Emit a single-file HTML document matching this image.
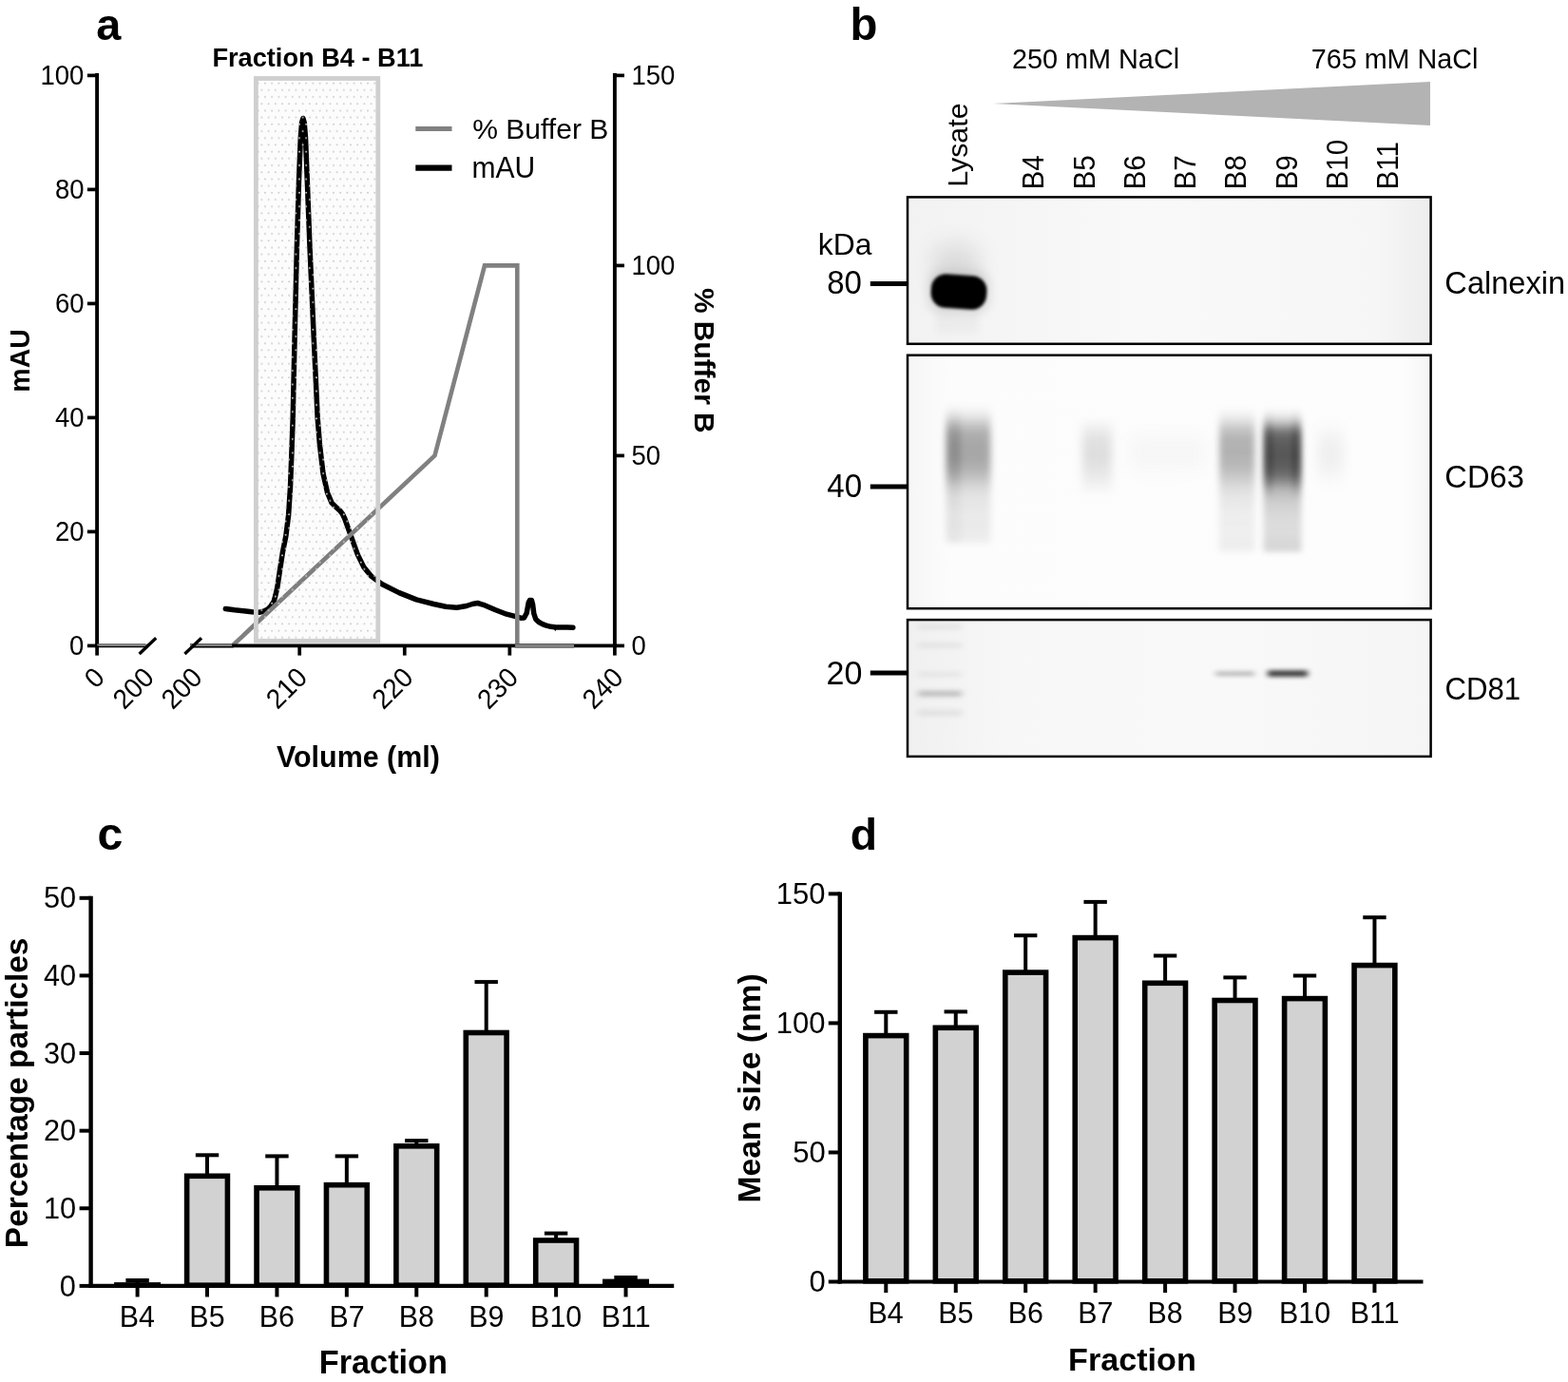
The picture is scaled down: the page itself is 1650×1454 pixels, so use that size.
<!DOCTYPE html>
<html lang="en"><head><meta charset="utf-8"><title>Figure</title>
<style>html,body{margin:0;padding:0;background:#fff;}svg{display:block;}text{font-family:"Liberation Sans", sans-serif;fill:#000;}</style></head><body>
<svg width="1650" height="1454" viewBox="0 0 1650 1454" role="img" aria-label="Figure with panels a, b, c and d">
<defs>
<pattern id="dots" x="270" y="84" width="7.2" height="14.4" patternUnits="userSpaceOnUse"><circle cx="1.8" cy="3.6" r="0.95" fill="#cbcbcb"/><circle cx="5.4" cy="10.8" r="0.95" fill="#cbcbcb"/></pattern>
<filter id="b1" x="-50%" y="-50%" width="200%" height="200%"><feGaussianBlur stdDeviation="1.6"/></filter>
<filter id="b2" x="-50%" y="-50%" width="200%" height="200%"><feGaussianBlur stdDeviation="2.5"/></filter>
<filter id="b4" x="-50%" y="-50%" width="200%" height="200%"><feGaussianBlur stdDeviation="4"/></filter>
<filter id="b6" x="-50%" y="-50%" width="200%" height="200%"><feGaussianBlur stdDeviation="6"/></filter>
<filter id="b9" x="-50%" y="-50%" width="200%" height="200%"><feGaussianBlur stdDeviation="9"/></filter>
<filter id="b14" x="-80%" y="-80%" width="260%" height="260%"><feGaussianBlur stdDeviation="14"/></filter>
<linearGradient id="blotbg" x1="0" y1="0" x2="1" y2="0"><stop offset="0" stop-color="#f2f2f2"/><stop offset="0.45" stop-color="#f9f9f9"/><stop offset="0.9" stop-color="#f6f6f6"/><stop offset="1" stop-color="#ededed"/></linearGradient>
<linearGradient id="blotbg2" x1="0" y1="0" x2="1" y2="0"><stop offset="0" stop-color="#f6f6f6"/><stop offset="0.08" stop-color="#fcfcfc"/><stop offset="0.95" stop-color="#fdfdfd"/><stop offset="1" stop-color="#f4f4f4"/></linearGradient>
<linearGradient id="blotbg3" x1="0" y1="0" x2="1" y2="0"><stop offset="0" stop-color="#f0f0f0"/><stop offset="0.2" stop-color="#f7f7f7"/><stop offset="0.6" stop-color="#f9f9f9"/><stop offset="1" stop-color="#f5f5f5"/></linearGradient>
<filter id="f10x12" x="-100%" y="-100%" width="300%" height="300%"><feGaussianBlur stdDeviation="10 12"/></filter><filter id="f5x5" x="-100%" y="-100%" width="300%" height="300%"><feGaussianBlur stdDeviation="5 5"/></filter><filter id="f3x5" x="-100%" y="-100%" width="300%" height="300%"><feGaussianBlur stdDeviation="3 5"/></filter><filter id="f3_5x2_5" x="-100%" y="-100%" width="300%" height="300%"><feGaussianBlur stdDeviation="3.5 2.5"/></filter><filter id="f3x2_5" x="-100%" y="-100%" width="300%" height="300%"><feGaussianBlur stdDeviation="3 2.5"/></filter><filter id="f5x3" x="-100%" y="-100%" width="300%" height="300%"><feGaussianBlur stdDeviation="5 3"/></filter><filter id="f9x9" x="-100%" y="-100%" width="300%" height="300%"><feGaussianBlur stdDeviation="9 9"/></filter><filter id="f2_5x2_5" x="-100%" y="-100%" width="300%" height="300%"><feGaussianBlur stdDeviation="2.5 2.5"/></filter><filter id="f6x10" x="-100%" y="-100%" width="300%" height="300%"><feGaussianBlur stdDeviation="6 10"/></filter><filter id="f3_5x2_4" x="-100%" y="-100%" width="300%" height="300%"><feGaussianBlur stdDeviation="3.5 2.4"/></filter><filter id="f3x2_0" x="-100%" y="-100%" width="300%" height="300%"><feGaussianBlur stdDeviation="3 2.0"/></filter><filter id="f3x2_2" x="-100%" y="-100%" width="300%" height="300%"><feGaussianBlur stdDeviation="3 2.2"/></filter><linearGradient id="gL" gradientUnits="userSpaceOnUse" x1="0" y1="424" x2="0" y2="575"><stop offset="0.0" stop-color="#000" stop-opacity="0.0"/><stop offset="0.053" stop-color="#000" stop-opacity="0.032"/><stop offset="0.106" stop-color="#000" stop-opacity="0.112"/><stop offset="0.1589" stop-color="#000" stop-opacity="0.224"/><stop offset="0.2119" stop-color="#000" stop-opacity="0.304"/><stop offset="0.2914" stop-color="#000" stop-opacity="0.336"/><stop offset="0.3841" stop-color="#000" stop-opacity="0.336"/><stop offset="0.4636" stop-color="#000" stop-opacity="0.288"/><stop offset="0.5298" stop-color="#000" stop-opacity="0.216"/><stop offset="0.5828" stop-color="#000" stop-opacity="0.144"/><stop offset="0.649" stop-color="#000" stop-opacity="0.096"/><stop offset="0.7682" stop-color="#000" stop-opacity="0.072"/><stop offset="0.8874" stop-color="#000" stop-opacity="0.068"/><stop offset="0.9536" stop-color="#000" stop-opacity="0.056"/><stop offset="1.0" stop-color="#000" stop-opacity="0.0"/></linearGradient><linearGradient id="gL2" gradientUnits="userSpaceOnUse" x1="0" y1="424" x2="0" y2="575"><stop offset="0.0" stop-color="#000" stop-opacity="0.0"/><stop offset="0.053" stop-color="#000" stop-opacity="0.014"/><stop offset="0.106" stop-color="#000" stop-opacity="0.049"/><stop offset="0.1589" stop-color="#000" stop-opacity="0.098"/><stop offset="0.2119" stop-color="#000" stop-opacity="0.133"/><stop offset="0.2914" stop-color="#000" stop-opacity="0.147"/><stop offset="0.3841" stop-color="#000" stop-opacity="0.147"/><stop offset="0.4636" stop-color="#000" stop-opacity="0.126"/><stop offset="0.5298" stop-color="#000" stop-opacity="0.095"/><stop offset="0.5828" stop-color="#000" stop-opacity="0.063"/><stop offset="0.649" stop-color="#000" stop-opacity="0.042"/><stop offset="0.7682" stop-color="#000" stop-opacity="0.032"/><stop offset="0.8874" stop-color="#000" stop-opacity="0.03"/><stop offset="0.9536" stop-color="#000" stop-opacity="0.025"/><stop offset="1.0" stop-color="#000" stop-opacity="0.0"/></linearGradient><linearGradient id="g5" gradientUnits="userSpaceOnUse" x1="0" y1="440" x2="0" y2="522"><stop offset="0.0" stop-color="#000" stop-opacity="0.0"/><stop offset="0.1463" stop-color="#000" stop-opacity="0.06"/><stop offset="0.3049" stop-color="#000" stop-opacity="0.11"/><stop offset="0.4878" stop-color="#000" stop-opacity="0.12"/><stop offset="0.6707" stop-color="#000" stop-opacity="0.09"/><stop offset="0.8293" stop-color="#000" stop-opacity="0.05"/><stop offset="1.0" stop-color="#000" stop-opacity="0.0"/></linearGradient><linearGradient id="g8" gradientUnits="userSpaceOnUse" x1="0" y1="428" x2="0" y2="584"><stop offset="0.0" stop-color="#000" stop-opacity="0.0"/><stop offset="0.0513" stop-color="#000" stop-opacity="0.04"/><stop offset="0.1026" stop-color="#000" stop-opacity="0.12"/><stop offset="0.1538" stop-color="#000" stop-opacity="0.22"/><stop offset="0.2179" stop-color="#000" stop-opacity="0.29"/><stop offset="0.3077" stop-color="#000" stop-opacity="0.3"/><stop offset="0.3974" stop-color="#000" stop-opacity="0.27"/><stop offset="0.4744" stop-color="#000" stop-opacity="0.2"/><stop offset="0.5385" stop-color="#000" stop-opacity="0.13"/><stop offset="0.6026" stop-color="#000" stop-opacity="0.09"/><stop offset="0.7179" stop-color="#000" stop-opacity="0.06"/><stop offset="0.859" stop-color="#000" stop-opacity="0.055"/><stop offset="0.9487" stop-color="#000" stop-opacity="0.06"/><stop offset="1.0" stop-color="#000" stop-opacity="0.0"/></linearGradient><linearGradient id="g9" gradientUnits="userSpaceOnUse" x1="0" y1="428" x2="0" y2="583"><stop offset="0.0" stop-color="#000" stop-opacity="0.0"/><stop offset="0.0387" stop-color="#000" stop-opacity="0.034"/><stop offset="0.0774" stop-color="#000" stop-opacity="0.118"/><stop offset="0.1161" stop-color="#000" stop-opacity="0.269"/><stop offset="0.1484" stop-color="#000" stop-opacity="0.437"/><stop offset="0.1935" stop-color="#000" stop-opacity="0.588"/><stop offset="0.2581" stop-color="#000" stop-opacity="0.638"/><stop offset="0.3355" stop-color="#000" stop-opacity="0.655"/><stop offset="0.4129" stop-color="#000" stop-opacity="0.622"/><stop offset="0.4645" stop-color="#000" stop-opacity="0.554"/><stop offset="0.5097" stop-color="#000" stop-opacity="0.437"/><stop offset="0.5484" stop-color="#000" stop-opacity="0.319"/><stop offset="0.5871" stop-color="#000" stop-opacity="0.244"/><stop offset="0.6581" stop-color="#000" stop-opacity="0.176"/><stop offset="0.7548" stop-color="#000" stop-opacity="0.134"/><stop offset="0.8516" stop-color="#000" stop-opacity="0.126"/><stop offset="0.9419" stop-color="#000" stop-opacity="0.151"/><stop offset="0.9742" stop-color="#000" stop-opacity="0.134"/><stop offset="1.0" stop-color="#000" stop-opacity="0.0"/></linearGradient><linearGradient id="g9a" gradientUnits="userSpaceOnUse" x1="0" y1="428" x2="0" y2="524"><stop offset="0.0" stop-color="#000" stop-opacity="0.0"/><stop offset="0.0625" stop-color="#000" stop-opacity="0.009"/><stop offset="0.125" stop-color="#000" stop-opacity="0.031"/><stop offset="0.1875" stop-color="#000" stop-opacity="0.07"/><stop offset="0.2396" stop-color="#000" stop-opacity="0.114"/><stop offset="0.3125" stop-color="#000" stop-opacity="0.154"/><stop offset="0.4167" stop-color="#000" stop-opacity="0.167"/><stop offset="0.5417" stop-color="#000" stop-opacity="0.172"/><stop offset="0.6667" stop-color="#000" stop-opacity="0.163"/><stop offset="0.75" stop-color="#000" stop-opacity="0.145"/><stop offset="0.8229" stop-color="#000" stop-opacity="0.114"/><stop offset="0.8854" stop-color="#000" stop-opacity="0.084"/><stop offset="1.0" stop-color="#000" stop-opacity="0.0"/></linearGradient><linearGradient id="g9b" gradientUnits="userSpaceOnUse" x1="0" y1="428" x2="0" y2="524"><stop offset="0.0" stop-color="#000" stop-opacity="0.0"/><stop offset="0.0625" stop-color="#000" stop-opacity="0.009"/><stop offset="0.125" stop-color="#000" stop-opacity="0.031"/><stop offset="0.1875" stop-color="#000" stop-opacity="0.07"/><stop offset="0.2396" stop-color="#000" stop-opacity="0.114"/><stop offset="0.3125" stop-color="#000" stop-opacity="0.154"/><stop offset="0.4167" stop-color="#000" stop-opacity="0.167"/><stop offset="0.5417" stop-color="#000" stop-opacity="0.172"/><stop offset="0.6667" stop-color="#000" stop-opacity="0.163"/><stop offset="0.75" stop-color="#000" stop-opacity="0.145"/><stop offset="0.8229" stop-color="#000" stop-opacity="0.114"/><stop offset="0.8854" stop-color="#000" stop-opacity="0.084"/><stop offset="1.0" stop-color="#000" stop-opacity="0.0"/></linearGradient>
</defs>
<rect x="0" y="0" width="1650" height="1454" fill="#fff"/>
<g id="panel-a">
<text transform="translate(101.15 41.5)" font-size="46.84" font-weight="bold">a</text>
<text transform="translate(223.39 70.09)" font-size="27.19" font-weight="bold">Fraction B4 - B11</text>
<polyline fill="none" stroke="#000" stroke-width="5.5" stroke-linejoin="round" stroke-linecap="round" points="237.3,640.5 247,641.8 256.4,642.7 265,643.8 272.7,644.3 278,643 281.8,641 285,637.5 288.2,632.7 290,626 291.8,618.2 294.5,600 297.3,581.8 300.9,563.6 303.6,541.8 305.5,512.7 306.9,476.4 308.2,440 310.2,350 312.4,260 314.5,190 316.3,145 317.6,129 318.9,124.5 320.2,129 321.5,145 323.5,195 326,260 330,350 334.2,440 336.4,467.3 340,498.2 344.5,518.2 349.1,529.1 353.5,533.5 357.3,536.8 360.3,540.5 362.7,545.5 367.3,558.2 371.8,570.9 376.4,583.6 382.7,596.4 390.9,606.4 401.8,614.5 420,623.6 438.2,630.9 456.4,635.5 469.1,638.3 480.7,639.3 490.9,637.5 497,635.5 502.5,634.5 509.8,636.7 521.5,641.8 533.1,646.2 541.8,648.4 548,650.2 551.5,650 554.2,645 556.2,634 557.5,631.5 559.4,631.5 560.6,636 561.8,645.5 563.8,651.5 567,654.5 570.9,656.6 575,658.2 579.6,659.3 585,659.9 591.3,660 597,660 602.9,660.2"/>
<polyline fill="none" stroke="#808080" stroke-width="4.6" stroke-linejoin="miter" points="200,679.4 244.5,679.4 457.5,479.4 510,279.4 544.3,279.4 544.3,679.4 604,679.4"/>
<path d="M582 660 L584.5 664.5 L585.5 660 Z" fill="#000"/>
<rect x="269.4" y="82.5" width="128.4" height="591.8" fill="#000" fill-opacity="0.012" stroke="none"/>
<rect x="269.4" y="82.5" width="128.4" height="591.8" fill="url(#dots)" stroke="#cfcfcf" stroke-width="4.8"/>
<line x1="102.1" y1="77.1" x2="102.1" y2="681.3" stroke="#000" stroke-width="3.9" stroke-linecap="butt"/>
<line x1="646.9" y1="77.1" x2="646.9" y2="681.3" stroke="#000" stroke-width="3.9" stroke-linecap="butt"/>
<line x1="100.19999999999999" y1="679.4" x2="153" y2="679.4" stroke="#000" stroke-width="3.8" stroke-linecap="butt"/>
<line x1="200" y1="679.4" x2="648.8" y2="679.4" stroke="#000" stroke-width="3.8" stroke-linecap="butt"/>
<line x1="102.1" y1="678.8" x2="157" y2="678.8" stroke="#808080" stroke-width="2.4" stroke-linecap="butt"/>
<line x1="200" y1="678.8" x2="244" y2="678.8" stroke="#808080" stroke-width="2.4" stroke-linecap="butt"/>
<line x1="542.1" y1="679.4" x2="604" y2="679.4" stroke="#808080" stroke-width="3.9" stroke-linecap="butt"/>
<line x1="146.6" y1="688" x2="164.2" y2="671.2" stroke="#000" stroke-width="3.3" stroke-linecap="butt"/>
<line x1="194.4" y1="688" x2="212" y2="671.2" stroke="#000" stroke-width="3.3" stroke-linecap="butt"/>
<line x1="91.9" y1="679.4" x2="102.1" y2="679.4" stroke="#000" stroke-width="3.7" stroke-linecap="butt"/>
<text transform="translate(73.09 688.9) scale(1 1.04)" font-size="27.5">0</text>
<line x1="91.9" y1="559.4" x2="102.1" y2="559.4" stroke="#000" stroke-width="3.7" stroke-linecap="butt"/>
<text transform="translate(57.97 568.9) scale(1 1.04)" font-size="27.5">20</text>
<line x1="91.9" y1="439.4" x2="102.1" y2="439.4" stroke="#000" stroke-width="3.7" stroke-linecap="butt"/>
<text transform="translate(57.97 448.9) scale(1 1.04)" font-size="27.5">40</text>
<line x1="91.9" y1="319.4" x2="102.1" y2="319.4" stroke="#000" stroke-width="3.7" stroke-linecap="butt"/>
<text transform="translate(57.97 328.9) scale(1 1.04)" font-size="27.5">60</text>
<line x1="91.9" y1="199.39999999999998" x2="102.1" y2="199.39999999999998" stroke="#000" stroke-width="3.7" stroke-linecap="butt"/>
<text transform="translate(57.97 208.9) scale(1 1.04)" font-size="27.5">80</text>
<line x1="91.9" y1="79.39999999999998" x2="102.1" y2="79.39999999999998" stroke="#000" stroke-width="3.7" stroke-linecap="butt"/>
<text transform="translate(42.38 88.9) scale(1 1.04)" font-size="27.5">100</text>
<line x1="646.9" y1="679.4" x2="657" y2="679.4" stroke="#000" stroke-width="3.7" stroke-linecap="butt"/>
<text transform="translate(664.41 688.95) scale(1 1.04)" font-size="27.5">0</text>
<line x1="646.9" y1="479.4" x2="657" y2="479.4" stroke="#000" stroke-width="3.7" stroke-linecap="butt"/>
<text transform="translate(664.41 488.95) scale(1 1.04)" font-size="27.5">50</text>
<line x1="646.9" y1="279.4" x2="657" y2="279.4" stroke="#000" stroke-width="3.7" stroke-linecap="butt"/>
<text transform="translate(664.41 288.95) scale(1 1.04)" font-size="27.5">100</text>
<line x1="646.9" y1="79.39999999999998" x2="657" y2="79.39999999999998" stroke="#000" stroke-width="3.7" stroke-linecap="butt"/>
<text transform="translate(664.41 88.95) scale(1 1.04)" font-size="27.5">150</text>
<line x1="102.1" y1="679.4" x2="102.1" y2="689.6" stroke="#000" stroke-width="3.7" stroke-linecap="butt"/>
<line x1="315.2" y1="679.4" x2="315.2" y2="689.6" stroke="#000" stroke-width="3.7" stroke-linecap="butt"/>
<line x1="425.77" y1="679.4" x2="425.77" y2="689.6" stroke="#000" stroke-width="3.7" stroke-linecap="butt"/>
<line x1="536.34" y1="679.4" x2="536.34" y2="689.6" stroke="#000" stroke-width="3.7" stroke-linecap="butt"/>
<line x1="646.9" y1="679.4" x2="646.9" y2="689.6" stroke="#000" stroke-width="3.7" stroke-linecap="butt"/>
<text transform="translate(292.03 747.29) rotate(-45) scale(1 1.04)" font-size="27.82">210</text>
<text transform="translate(100.78 725.59) rotate(-45) scale(1 1.04)" font-size="27.82">0</text>
<text transform="translate(130.79 747.38) rotate(-45) scale(1 1.04)" font-size="27.82">200</text>
<text transform="translate(181.69 747.38) rotate(-45) scale(1 1.04)" font-size="27.82">200</text>
<text transform="translate(403.56 747.38) rotate(-45) scale(1 1.04)" font-size="27.82">220</text>
<text transform="translate(514.13 747.38) rotate(-45) scale(1 1.04)" font-size="27.82">230</text>
<text transform="translate(624.69 747.38) rotate(-45) scale(1 1.04)" font-size="27.82">240</text>
<text transform="translate(30.68 412.7) rotate(-90) scale(1 1.04)" font-size="28.55" font-weight="bold">mAU</text>
<text transform="translate(731.25 303.0) rotate(90)" font-size="29.86" font-weight="bold">% Buffer B</text>
<text transform="translate(290.99 807.27)" font-size="30.45" font-weight="bold">Volume (ml)</text>
<line x1="437.3" y1="135.5" x2="475.5" y2="135.5" stroke="#808080" stroke-width="5.2" stroke-linecap="butt"/>
<line x1="437.3" y1="176.7" x2="475.5" y2="176.7" stroke="#000" stroke-width="6.3" stroke-linecap="butt"/>
<text transform="translate(497.2 146.37)" font-size="30.06">% Buffer B</text>
<text transform="translate(496.4 186.7) scale(1 1.04)" font-size="30.06">mAU</text>
</g>
<g id="panel-b">
<text transform="translate(894.47 41.9)" font-size="47.3" font-weight="bold">b</text>
<text transform="translate(1064.96 72.43)" font-size="28.82">250 mM NaCl</text>
<text transform="translate(1379.76 72.4)" font-size="28.73">765 mM NaCl</text>
<polygon points="1045.2,109 1505,86 1505,132" fill="#b3b3b3"/>
<text transform="translate(1018.0 196.83) rotate(-90)" font-size="30.4">Lysate</text>
<text transform="translate(1098.2 199.47) rotate(-90) scale(1 1.04)" font-size="29.6">B4</text>
<text transform="translate(1151.5 199.47) rotate(-90) scale(1 1.04)" font-size="29.6">B5</text>
<text transform="translate(1204.8 199.47) rotate(-90) scale(1 1.04)" font-size="29.6">B6</text>
<text transform="translate(1258.1 199.47) rotate(-90) scale(1 1.04)" font-size="29.6">B7</text>
<text transform="translate(1311.4 199.47) rotate(-90) scale(1 1.04)" font-size="29.6">B8</text>
<text transform="translate(1364.7 199.47) rotate(-90) scale(1 1.04)" font-size="29.6">B9</text>
<text transform="translate(1418.0 199.47) rotate(-90) scale(1 1.04)" font-size="29.6">B10</text>
<text transform="translate(1471.3 199.47) rotate(-90) scale(1 1.04)" font-size="29.6">B11</text>
<clipPath id="c1"><rect x="955.0" y="207.4" width="550.5999999999999" height="154.4"/></clipPath>
<rect x="955.0" y="207.4" width="550.5999999999999" height="154.4" fill="url(#blotbg)" stroke="none"/>
<g clip-path="url(#c1)">
<rect x="980" y="258" width="52" height="42" rx="20" fill="#000" fill-opacity="0.1" filter="url(#f10x12)"/>
<rect x="976" y="284" width="66" height="46" rx="16" fill="#000" fill-opacity="0.1" filter="url(#f5x5)"/>
<rect x="979.7" y="289.3" width="58.6" height="35.4" rx="15.5" ry="15.5" fill="#000" filter="url(#b1)" transform="rotate(4 1009 307)"/>
<rect x="985" y="328" width="45" height="22" rx="4" fill="#000" fill-opacity="0.03" filter="url(#f3x5)"/>
</g>
<rect x="955.0" y="207.4" width="550.5999999999999" height="154.4" fill="none" stroke="#000" stroke-width="2.5"/>
<clipPath id="c2"><rect x="955.0" y="373.7" width="550.5999999999999" height="266.50000000000006"/></clipPath>
<rect x="955.0" y="373.7" width="550.5999999999999" height="266.50000000000006" fill="url(#blotbg2)" stroke="none"/>
<g clip-path="url(#c2)">
<rect x="995.5" y="424" width="47.0" height="151" fill="url(#gL)" filter="url(#f3_5x2_5)"/>
<rect x="996" y="424" width="15" height="151" fill="url(#gL2)" filter="url(#f3x2_5)"/>
<rect x="1139" y="440" width="31" height="82" fill="url(#g5)" filter="url(#f5x3)"/>
<rect x="1190" y="458" width="78" height="37" rx="4" fill="#000" fill-opacity="0.025" filter="url(#f9x9)"/>
<rect x="1283" y="428" width="37.5" height="156" fill="url(#g8)" filter="url(#f3_5x2_5)"/>
<rect x="1329.5" y="428" width="40.0" height="155" fill="url(#g9)" filter="url(#f3x2_5)"/>
<rect x="1330.5" y="428" width="9.5" height="96" fill="url(#g9a)" filter="url(#f2_5x2_5)"/>
<rect x="1359" y="428" width="9.5" height="96" fill="url(#g9b)" filter="url(#f2_5x2_5)"/>
<rect x="1386" y="455" width="28" height="45" rx="4" fill="#000" fill-opacity="0.05" filter="url(#f6x10)"/>
</g>
<rect x="955.0" y="373.7" width="550.5999999999999" height="266.50000000000006" fill="none" stroke="#000" stroke-width="2.5"/>
<clipPath id="c3"><rect x="955.0" y="652.1" width="550.5999999999999" height="143.79999999999995"/></clipPath>
<rect x="955.0" y="652.1" width="550.5999999999999" height="143.79999999999995" fill="url(#blotbg3)" stroke="none"/>
<g clip-path="url(#c3)">
<rect x="966" y="657.0" width="46" height="5.0" rx="1" fill="#000" fill-opacity="0.07" filter="url(#f3_5x2_4)"/>
<rect x="966" y="676.5" width="46" height="5.0" rx="1" fill="#000" fill-opacity="0.07" filter="url(#f3_5x2_4)"/>
<rect x="966" y="707.0" width="46" height="5.0" rx="1" fill="#000" fill-opacity="0.06" filter="url(#f3_5x2_4)"/>
<rect x="966" y="726.95" width="46" height="5.5" rx="1" fill="#000" fill-opacity="0.24" filter="url(#f3_5x2_4)"/>
<rect x="966" y="747.0" width="46" height="6.0" rx="1" fill="#000" fill-opacity="0.08" filter="url(#f3_5x2_4)"/>
<rect x="1279" y="706.2" width="41" height="5.0" rx="1" fill="#000" fill-opacity="0.25" filter="url(#f3x2_0)"/>
<rect x="1334" y="705.2" width="42" height="6.7999999999999545" rx="1" fill="#000" fill-opacity="0.74" filter="url(#f3x2_2)"/>
</g>
<rect x="955.0" y="652.1" width="550.5999999999999" height="143.79999999999995" fill="none" stroke="#000" stroke-width="2.5"/>
<line x1="915.8" y1="298.4" x2="954.5" y2="298.4" stroke="#000" stroke-width="5" stroke-linecap="butt"/>
<line x1="915.8" y1="512.1" x2="954.5" y2="512.1" stroke="#000" stroke-width="5" stroke-linecap="butt"/>
<line x1="915.8" y1="707.9" x2="954.5" y2="707.9" stroke="#000" stroke-width="5" stroke-linecap="butt"/>
<text transform="translate(860.78 267.97)" font-size="31.86">kDa</text>
<text transform="translate(870.15 308.91) scale(1 1.04)" font-size="32.95">80</text>
<text transform="translate(870.35 522.79) scale(1 1.04)" font-size="33.05">40</text>
<text transform="translate(869.5 720.2) scale(1 1.04)" font-size="34.03">20</text>
<text transform="translate(1520.37 308.57)" font-size="32.58">Calnexin</text>
<text transform="translate(1520.37 513.14) scale(1 1.04)" font-size="32.64">CD63</text>
<text transform="translate(1520.44 735.72) scale(1 1.04)" font-size="31.18">CD81</text>
</g>
<g id="panel-c">
<text transform="translate(102.5 894.1)" font-size="48.19" font-weight="bold">c</text>
<line x1="144.6" y1="1347" x2="144.6" y2="1351.1" stroke="#000" stroke-width="4" stroke-linecap="butt"/>
<line x1="132.4" y1="1347" x2="156.79999999999998" y2="1347" stroke="#000" stroke-width="4" stroke-linecap="butt"/>
<rect x="120.1" y="1349.1" width="49" height="3.8" fill="#000"/>
<line x1="218.01999999999998" y1="1215.3" x2="218.01999999999998" y2="1236.5" stroke="#000" stroke-width="4" stroke-linecap="butt"/>
<line x1="205.82" y1="1215.3" x2="230.21999999999997" y2="1215.3" stroke="#000" stroke-width="4" stroke-linecap="butt"/>
<rect x="196.62" y="1237.3" width="42.8" height="114.9" fill="#d2d2d2" stroke="#000" stroke-width="5.6"/>
<line x1="291.44" y1="1216.4" x2="291.44" y2="1249" stroke="#000" stroke-width="4" stroke-linecap="butt"/>
<line x1="279.24" y1="1216.4" x2="303.64" y2="1216.4" stroke="#000" stroke-width="4" stroke-linecap="butt"/>
<rect x="270.04" y="1249.8" width="42.8" height="102.4" fill="#d2d2d2" stroke="#000" stroke-width="5.6"/>
<line x1="364.86" y1="1216.4" x2="364.86" y2="1245.9" stroke="#000" stroke-width="4" stroke-linecap="butt"/>
<line x1="352.66" y1="1216.4" x2="377.06" y2="1216.4" stroke="#000" stroke-width="4" stroke-linecap="butt"/>
<rect x="343.46" y="1246.7" width="42.8" height="105.5" fill="#d2d2d2" stroke="#000" stroke-width="5.6"/>
<line x1="438.28" y1="1200.1" x2="438.28" y2="1205" stroke="#000" stroke-width="4" stroke-linecap="butt"/>
<line x1="426.08" y1="1200.1" x2="450.47999999999996" y2="1200.1" stroke="#000" stroke-width="4" stroke-linecap="butt"/>
<rect x="416.88" y="1205.8" width="42.8" height="146.4" fill="#d2d2d2" stroke="#000" stroke-width="5.6"/>
<line x1="511.70000000000005" y1="1033.1" x2="511.70000000000005" y2="1085.7" stroke="#000" stroke-width="4" stroke-linecap="butt"/>
<line x1="499.50000000000006" y1="1033.1" x2="523.9000000000001" y2="1033.1" stroke="#000" stroke-width="4" stroke-linecap="butt"/>
<rect x="490.3" y="1086.5" width="42.8" height="265.7" fill="#d2d2d2" stroke="#000" stroke-width="5.6"/>
<line x1="585.12" y1="1297.6" x2="585.12" y2="1304.2" stroke="#000" stroke-width="4" stroke-linecap="butt"/>
<line x1="572.92" y1="1297.6" x2="597.32" y2="1297.6" stroke="#000" stroke-width="4" stroke-linecap="butt"/>
<rect x="563.72" y="1305.0" width="42.8" height="47.2" fill="#d2d2d2" stroke="#000" stroke-width="5.6"/>
<line x1="658.5400000000001" y1="1344" x2="658.5400000000001" y2="1347.6" stroke="#000" stroke-width="4" stroke-linecap="butt"/>
<line x1="646.34" y1="1344" x2="670.7400000000001" y2="1344" stroke="#000" stroke-width="4" stroke-linecap="butt"/>
<rect x="634.04" y="1345.6" width="49" height="7.3" fill="#000"/>
<line x1="95.6" y1="942.8000000000001" x2="95.6" y2="1355.0" stroke="#000" stroke-width="4.4" stroke-linecap="butt"/>
<line x1="93.39999999999999" y1="1352.9" x2="709.2" y2="1352.9" stroke="#000" stroke-width="4.2" stroke-linecap="butt"/>
<line x1="83.6" y1="1352.9" x2="95.6" y2="1352.9" stroke="#000" stroke-width="4" stroke-linecap="butt"/>
<text transform="translate(62.84 1363.5) scale(1 1.04)" font-size="30.7">0</text>
<line x1="83.6" y1="1271.2800000000002" x2="95.6" y2="1271.2800000000002" stroke="#000" stroke-width="4" stroke-linecap="butt"/>
<text transform="translate(45.95 1281.88) scale(1 1.04)" font-size="30.7">10</text>
<line x1="83.6" y1="1189.66" x2="95.6" y2="1189.66" stroke="#000" stroke-width="4" stroke-linecap="butt"/>
<text transform="translate(45.95 1200.26) scale(1 1.04)" font-size="30.7">20</text>
<line x1="83.6" y1="1108.04" x2="95.6" y2="1108.04" stroke="#000" stroke-width="4" stroke-linecap="butt"/>
<text transform="translate(45.95 1118.64) scale(1 1.04)" font-size="30.7">30</text>
<line x1="83.6" y1="1026.42" x2="95.6" y2="1026.42" stroke="#000" stroke-width="4" stroke-linecap="butt"/>
<text transform="translate(45.95 1037.02) scale(1 1.04)" font-size="30.7">40</text>
<line x1="83.6" y1="944.8000000000001" x2="95.6" y2="944.8000000000001" stroke="#000" stroke-width="4" stroke-linecap="butt"/>
<text transform="translate(45.95 955.4) scale(1 1.04)" font-size="30.7">50</text>
<line x1="144.6" y1="1352.9" x2="144.6" y2="1364.5" stroke="#000" stroke-width="4" stroke-linecap="butt"/>
<text transform="translate(125.69 1395.89) scale(1 1.04)" font-size="30.4">B4</text>
<line x1="218.01999999999998" y1="1352.9" x2="218.01999999999998" y2="1364.5" stroke="#000" stroke-width="4" stroke-linecap="butt"/>
<text transform="translate(199.37 1395.89) scale(1 1.04)" font-size="30.4">B5</text>
<line x1="291.44" y1="1352.9" x2="291.44" y2="1364.5" stroke="#000" stroke-width="4" stroke-linecap="butt"/>
<text transform="translate(272.79 1395.89) scale(1 1.04)" font-size="30.4">B6</text>
<line x1="364.86" y1="1352.9" x2="364.86" y2="1364.5" stroke="#000" stroke-width="4" stroke-linecap="butt"/>
<text transform="translate(346.46 1395.89) scale(1 1.04)" font-size="30.4">B7</text>
<line x1="438.28" y1="1352.9" x2="438.28" y2="1364.5" stroke="#000" stroke-width="4" stroke-linecap="butt"/>
<text transform="translate(419.63 1395.89) scale(1 1.04)" font-size="30.4">B8</text>
<line x1="511.70000000000005" y1="1352.9" x2="511.70000000000005" y2="1364.5" stroke="#000" stroke-width="4" stroke-linecap="butt"/>
<text transform="translate(493.3 1395.89) scale(1 1.04)" font-size="30.4">B9</text>
<line x1="585.12" y1="1352.9" x2="585.12" y2="1364.5" stroke="#000" stroke-width="4" stroke-linecap="butt"/>
<text transform="translate(558.11 1395.89) scale(1 1.04)" font-size="30.4">B10</text>
<line x1="658.5400000000001" y1="1352.9" x2="658.5400000000001" y2="1364.5" stroke="#000" stroke-width="4" stroke-linecap="butt"/>
<text transform="translate(632.79 1395.89) scale(1 1.04)" font-size="30.4">B11</text>
<text transform="translate(29.07 1313.13) rotate(-90)" font-size="33.38" font-weight="bold">Percentage particles</text>
<text transform="translate(335.71 1444.99)" font-size="34.3" font-weight="bold">Fraction</text>
</g>
<g id="panel-d">
<text transform="translate(894.84 894.1)" font-size="46.33" font-weight="bold">d</text>
<line x1="932.3" y1="1064.8" x2="932.3" y2="1088.8" stroke="#000" stroke-width="4" stroke-linecap="butt"/>
<line x1="920.0999999999999" y1="1064.8" x2="944.5" y2="1064.8" stroke="#000" stroke-width="4" stroke-linecap="butt"/>
<rect x="910.9" y="1089.6" width="42.8" height="258.2" fill="#d2d2d2" stroke="#000" stroke-width="5.6"/>
<line x1="1005.75" y1="1064.4" x2="1005.75" y2="1080.5" stroke="#000" stroke-width="4" stroke-linecap="butt"/>
<line x1="993.55" y1="1064.4" x2="1017.95" y2="1064.4" stroke="#000" stroke-width="4" stroke-linecap="butt"/>
<rect x="984.35" y="1081.3" width="42.8" height="266.5" fill="#d2d2d2" stroke="#000" stroke-width="5.6"/>
<line x1="1079.2" y1="984.2" x2="1079.2" y2="1022.3" stroke="#000" stroke-width="4" stroke-linecap="butt"/>
<line x1="1067.0" y1="984.2" x2="1091.4" y2="984.2" stroke="#000" stroke-width="4" stroke-linecap="butt"/>
<rect x="1057.8" y="1023.1" width="42.8" height="324.7" fill="#d2d2d2" stroke="#000" stroke-width="5.6"/>
<line x1="1152.65" y1="948.9" x2="1152.65" y2="985.8" stroke="#000" stroke-width="4" stroke-linecap="butt"/>
<line x1="1140.45" y1="948.9" x2="1164.8500000000001" y2="948.9" stroke="#000" stroke-width="4" stroke-linecap="butt"/>
<rect x="1131.25" y="986.6" width="42.8" height="361.2" fill="#d2d2d2" stroke="#000" stroke-width="5.6"/>
<line x1="1226.1" y1="1005.5" x2="1226.1" y2="1033.5" stroke="#000" stroke-width="4" stroke-linecap="butt"/>
<line x1="1213.8999999999999" y1="1005.5" x2="1238.3" y2="1005.5" stroke="#000" stroke-width="4" stroke-linecap="butt"/>
<rect x="1204.7" y="1034.3" width="42.8" height="313.5" fill="#d2d2d2" stroke="#000" stroke-width="5.6"/>
<line x1="1299.55" y1="1028.4" x2="1299.55" y2="1051.7" stroke="#000" stroke-width="4" stroke-linecap="butt"/>
<line x1="1287.35" y1="1028.4" x2="1311.75" y2="1028.4" stroke="#000" stroke-width="4" stroke-linecap="butt"/>
<rect x="1278.15" y="1052.5" width="42.8" height="295.3" fill="#d2d2d2" stroke="#000" stroke-width="5.6"/>
<line x1="1373.0" y1="1026.5" x2="1373.0" y2="1049.8" stroke="#000" stroke-width="4" stroke-linecap="butt"/>
<line x1="1360.8" y1="1026.5" x2="1385.2" y2="1026.5" stroke="#000" stroke-width="4" stroke-linecap="butt"/>
<rect x="1351.6" y="1050.6" width="42.8" height="297.2" fill="#d2d2d2" stroke="#000" stroke-width="5.6"/>
<line x1="1446.4499999999998" y1="965.2" x2="1446.4499999999998" y2="1014.8" stroke="#000" stroke-width="4" stroke-linecap="butt"/>
<line x1="1434.2499999999998" y1="965.2" x2="1458.6499999999999" y2="965.2" stroke="#000" stroke-width="4" stroke-linecap="butt"/>
<rect x="1425.05" y="1015.6" width="42.8" height="332.2" fill="#d2d2d2" stroke="#000" stroke-width="5.6"/>
<line x1="883.8" y1="938.395" x2="883.8" y2="1350.6" stroke="#000" stroke-width="4.4" stroke-linecap="butt"/>
<line x1="881.5999999999999" y1="1348.5" x2="1497.5" y2="1348.5" stroke="#000" stroke-width="4.2" stroke-linecap="butt"/>
<line x1="871.8" y1="1348.5" x2="883.8" y2="1348.5" stroke="#000" stroke-width="4" stroke-linecap="butt"/>
<text transform="translate(851.38 1359.21) scale(1 1.04)" font-size="31">0</text>
<line x1="871.8" y1="1212.465" x2="883.8" y2="1212.465" stroke="#000" stroke-width="4" stroke-linecap="butt"/>
<text transform="translate(834.33 1223.17) scale(1 1.04)" font-size="31">50</text>
<line x1="871.8" y1="1076.43" x2="883.8" y2="1076.43" stroke="#000" stroke-width="4" stroke-linecap="butt"/>
<text transform="translate(816.77 1087.14) scale(1 1.04)" font-size="31">100</text>
<line x1="871.8" y1="940.395" x2="883.8" y2="940.395" stroke="#000" stroke-width="4" stroke-linecap="butt"/>
<text transform="translate(816.77 951.1) scale(1 1.04)" font-size="31">150</text>
<line x1="932.3" y1="1348.5" x2="932.3" y2="1360.1" stroke="#000" stroke-width="4" stroke-linecap="butt"/>
<text transform="translate(913.49 1391.59) scale(1 1.04)" font-size="30.4">B4</text>
<line x1="1005.75" y1="1348.5" x2="1005.75" y2="1360.1" stroke="#000" stroke-width="4" stroke-linecap="butt"/>
<text transform="translate(987.2 1391.59) scale(1 1.04)" font-size="30.4">B5</text>
<line x1="1079.2" y1="1348.5" x2="1079.2" y2="1360.1" stroke="#000" stroke-width="4" stroke-linecap="butt"/>
<text transform="translate(1060.65 1391.59) scale(1 1.04)" font-size="30.4">B6</text>
<line x1="1152.65" y1="1348.5" x2="1152.65" y2="1360.1" stroke="#000" stroke-width="4" stroke-linecap="butt"/>
<text transform="translate(1134.35 1391.59) scale(1 1.04)" font-size="30.4">B7</text>
<line x1="1226.1" y1="1348.5" x2="1226.1" y2="1360.1" stroke="#000" stroke-width="4" stroke-linecap="butt"/>
<text transform="translate(1207.55 1391.59) scale(1 1.04)" font-size="30.4">B8</text>
<line x1="1299.55" y1="1348.5" x2="1299.55" y2="1360.1" stroke="#000" stroke-width="4" stroke-linecap="butt"/>
<text transform="translate(1281.25 1391.59) scale(1 1.04)" font-size="30.4">B9</text>
<line x1="1373.0" y1="1348.5" x2="1373.0" y2="1360.1" stroke="#000" stroke-width="4" stroke-linecap="butt"/>
<text transform="translate(1346.09 1391.59) scale(1 1.04)" font-size="30.4">B10</text>
<line x1="1446.4499999999998" y1="1348.5" x2="1446.4499999999998" y2="1360.1" stroke="#000" stroke-width="4" stroke-linecap="butt"/>
<text transform="translate(1420.8 1391.59) scale(1 1.04)" font-size="30.4">B11</text>
<text transform="translate(799.95 1265.54) rotate(-90)" font-size="33.67" font-weight="bold">Mean size (nm)</text>
<text transform="translate(1124.12 1442.48)" font-size="34.14" font-weight="bold">Fraction</text>
</g>
</svg></body></html>
